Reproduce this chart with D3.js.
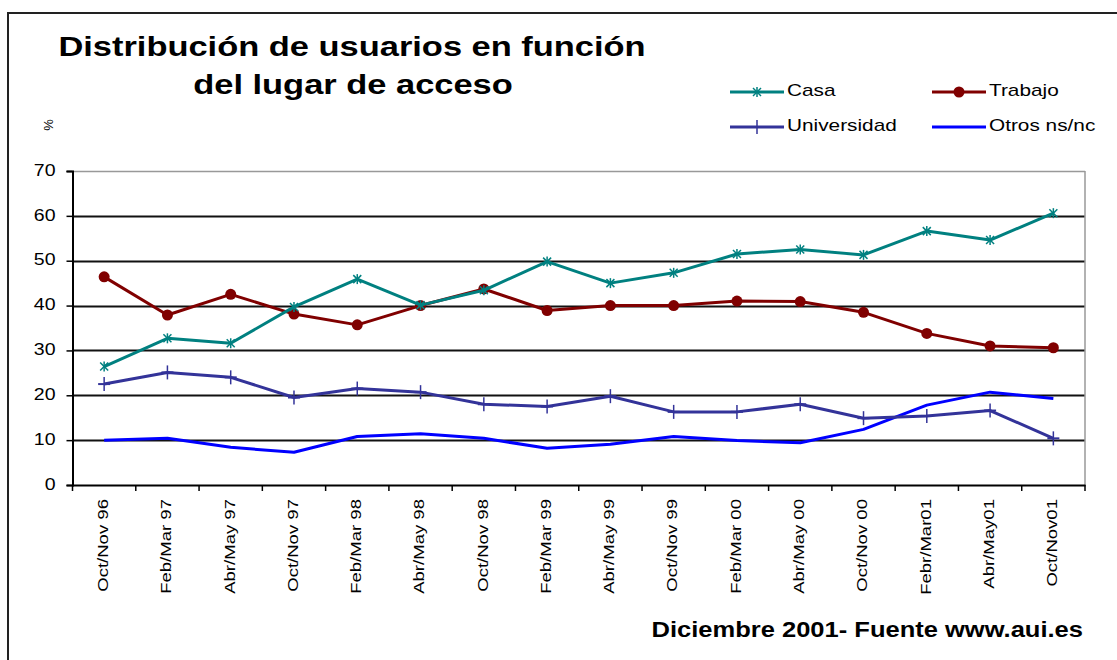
<!DOCTYPE html>
<html>
<head>
<meta charset="utf-8">
<script src="https://cdn.jsdelivr.net/npm/d3@7"></script>
<style>
  html, body { margin: 0; padding: 0; background: #fff; }
  svg { display: block; font-family: "Liberation Sans", Arial, sans-serif; }
</style>
</head>
<body>
<svg id="chart" width="1117" height="660"></svg>
<script>
const categories = ["Oct/Nov 96","Feb/Mar 97","Abr/May 97","Oct/Nov 97","Feb/Mar 98","Abr/May 98",
  "Oct/Nov 98","Feb/Mar 99","Abr/May 99","Oct/Nov 99","Feb/Mar 00","Abr/May 00","Oct/Nov 00",
  "Febr/Mar01","Abr/May01","Oct/Nov01"];
const casa        = [26.4, 32.7, 31.6, 39.7, 45.9, 40.1, 43.4, 49.8, 45.0, 47.3, 51.5, 52.5, 51.3, 56.6, 54.6, 60.6];
const trabajo     = [46.4, 37.9, 42.5, 38.1, 35.7, 40.0, 43.7, 38.9, 40.0, 40.0, 41.0, 40.9, 38.5, 33.8, 31.0, 30.6];
const universidad = [22.5, 25.1, 24.0, 19.5, 21.5, 20.7, 18.0, 17.5, 19.8, 16.3, 16.3, 18.0, 14.9, 15.4, 16.6, 10.4];
const otros       = [10.0, 10.4, 8.4, 7.3, 10.8, 11.4, 10.4, 8.2, 9.1, 10.8, 9.9, 9.4, 12.4, 17.8, 20.7, 19.3];
const yTicks = [0, 10, 20, 30, 40, 50, 60, 70];
const seriesNames = ["Casa", "Trabajo", "Universidad", "Otros ns/nc"];

const series = [
  { name: seriesNames[0], values: casa, color: "#008080", marker: "star" },
  { name: seriesNames[1], values: trabajo, color: "#800000", marker: "circle" },
  { name: seriesNames[2], values: universidad, color: "#333399", marker: "plus" },
  { name: seriesNames[3], values: otros, color: "#0000FF", marker: "none" }
];

const svg = d3.select("#chart");

// helper for horizontally widened text (reference uses a wide bitmap font rendering)
function wideText(x0, y0, str, size, sx, opts = {}) {
  return svg.append("text")
    .attr("transform", `translate(${x0},${y0}) scale(${sx},1)`)
    .attr("text-anchor", opts.anchor || "start")
    .attr("dominant-baseline", opts.baseline || "auto")
    .attr("font-size", size)
    .attr("font-weight", opts.weight || "normal")
    .attr("fill", "#000")
    .text(str);
}

// outer frame
svg.append("rect").attr("x", 8).attr("y", 13).attr("width", 1130).attr("height", 680)
  .attr("fill", "none").attr("stroke", "#222").attr("stroke-width", 2);

const pLeft = 72.5, pRight = 1085, pTop = 171, pBottom = 485;
const x = d3.scaleBand().domain(categories).range([pLeft, pRight]);
const y = d3.scaleLinear().domain([0, 70]).range([pBottom, pTop]);

// title
wideText(352, 56, "Distribución de usuarios en función", 28, 1.23, { anchor: "middle", weight: "bold" });
wideText(353, 94, "del lugar de acceso", 28, 1.23, { anchor: "middle", weight: "bold" });

// % label
svg.append("text").attr("transform", "translate(50,125) rotate(-90)").attr("text-anchor", "middle")
  .attr("dominant-baseline", "middle").attr("font-size", 13).text("%");

// gridlines
svg.append("g").selectAll("line").data(yTicks.filter(d => d > 0)).join("line")
  .attr("x1", pLeft).attr("x2", pRight)
  .attr("y1", d => Math.round(y(d)) + 0.5).attr("y2", d => Math.round(y(d)) + 0.5)
  .attr("stroke", d => d === 70 ? "#999" : "#111").attr("stroke-width", d => d === 70 ? 1.5 : 2);
// right border
svg.append("line").attr("x1", pRight).attr("x2", pRight).attr("y1", pTop).attr("y2", pBottom)
  .attr("stroke", "#999").attr("stroke-width", 1.5);

// y axis
const yAxis = d3.axisLeft(y).tickValues(yTicks).tickSize(6).tickPadding(10);
const gy = svg.append("g").attr("transform", `translate(${pLeft},0)`).call(yAxis);
gy.select(".domain").attr("stroke", "#000").attr("stroke-width", 2);
gy.selectAll(".tick line").attr("stroke", "#000").attr("stroke-width", 1.5);
gy.selectAll(".tick text").attr("font-size", 16).attr("fill", "#000")
  .attr("font-family", "Liberation Sans, Arial, sans-serif")
  .attr("x", 0).attr("dy", null).attr("dominant-baseline", "middle")
  .attr("transform", "translate(-17,0) scale(1.22,1)");

// x axis
const xAxis = d3.axisBottom(x).tickSize(0).tickPadding(0);
const gx = svg.append("g").attr("transform", `translate(0,${pBottom})`).call(xAxis);
gx.select(".domain").attr("stroke", "#000").attr("stroke-width", 2);
gx.selectAll(".tick text")
  .attr("font-size", 14.5).attr("fill", "#000").attr("font-family", "Liberation Sans, Arial, sans-serif")
  .attr("text-anchor", "end").attr("dominant-baseline", "middle")
  .attr("transform", "translate(0,14) rotate(-90) scale(1.28,1)").attr("x", 0).attr("y", 0).attr("dy", null);
// x tick marks at band boundaries
const boundaries = categories.map(c => x(c)).concat([pRight]);
svg.append("g").selectAll("line").data(boundaries).join("line")
  .attr("x1", d => d).attr("x2", d => d).attr("y1", pBottom).attr("y2", pBottom + 6)
  .attr("stroke", "#000").attr("stroke-width", 1.5);

// lines
const cx = c => x(c) + x.bandwidth() / 2;
const lineGen = d3.line().x((d, i) => cx(categories[i])).y(d => y(d));

function drawMarker(g, type, color, px, py) {
  if (type === "circle") {
    g.append("circle").attr("cx", px).attr("cy", py).attr("r", 5.5).attr("fill", color);
  } else if (type === "plus") {
    g.append("line").attr("x1", px - 6).attr("x2", px + 6).attr("y1", py).attr("y2", py)
      .attr("stroke", color).attr("stroke-width", 2);
    g.append("line").attr("x1", px).attr("x2", px).attr("y1", py - 7).attr("y2", py + 7)
      .attr("stroke", color).attr("stroke-width", 1.5);
  } else if (type === "star") {
    const s = 4;
    g.append("line").attr("x1", px - s).attr("x2", px + s).attr("y1", py - s).attr("y2", py + s)
      .attr("stroke", color).attr("stroke-width", 1.5);
    g.append("line").attr("x1", px - s).attr("x2", px + s).attr("y1", py + s).attr("y2", py - s)
      .attr("stroke", color).attr("stroke-width", 1.5);
    g.append("line").attr("x1", px).attr("x2", px).attr("y1", py - s - 1).attr("y2", py + s + 1)
      .attr("stroke", color).attr("stroke-width", 1.5);
  }
}

const drawOrder = [3, 2, 1, 0];
drawOrder.forEach(si => {
  const s = series[si];
  const g = svg.append("g");
  g.append("path").datum(s.values).attr("d", lineGen).attr("fill", "none")
    .attr("stroke", s.color).attr("stroke-width", 3).attr("stroke-linejoin", "round");
  s.values.forEach((v, i) => drawMarker(g, s.marker, s.color, cx(categories[i]), y(v)));
});

// legend
const legendPos = [
  { x: 730, y: 92 }, { x: 932, y: 92 }, { x: 730, y: 127 }, { x: 932, y: 127 }
];
series.forEach((s, i) => {
  const p = legendPos[i];
  const g = svg.append("g");
  g.append("line").attr("x1", p.x).attr("x2", p.x + 54).attr("y1", p.y).attr("y2", p.y)
    .attr("stroke", s.color).attr("stroke-width", 3);
  drawMarker(g, s.marker, s.color, p.x + 27, p.y);
  wideText(p.x + 57, p.y, s.name, 16, 1.3, { baseline: "middle" });
});

// footer
wideText(1083, 637, "Diciembre 2001- Fuente www.aui.es", 22, 1.16, { anchor: "end", weight: "bold" });
</script>
</body>
</html>
